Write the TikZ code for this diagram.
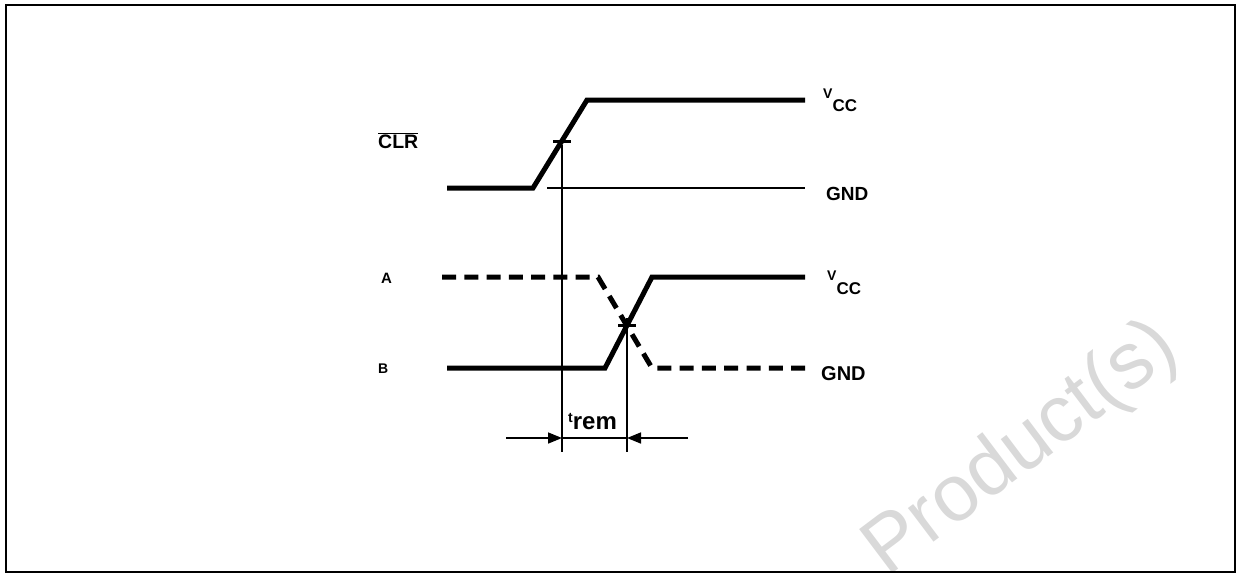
\documentclass[tikz,border=0pt]{standalone}
\usepackage{fontspec}
\newfontfamily\labfont{Liberation Sans}
\usetikzlibrary{arrows.meta}
\begin{document}
\begin{tikzpicture}[x=1pt,y=-1pt,
  sig/.style={line width=5pt},
  sigdash/.style={line width=5pt, dash pattern=on 14pt off 8.27pt},
  thin/.style={line width=1.8pt},
  tick/.style={line width=3pt},
  lab/.style={font=\labfont\bfseries, inner sep=0pt},
  dim/.style={line width=1.6pt},
  arr/.style={-{Triangle[length=14pt,width=11pt]}}
]
\useasboundingbox (0,0) rectangle (1237,574);
% watermark
\begin{scope}
\clip (7,6) rectangle (1234,571);
\node[font=\labfont\fontsize{80}{80}\selectfont, text=black!15, rotate=37, anchor=base west, inner sep=0pt] (wm) at (887,578) {Product(s)};
\end{scope}
% frame
\draw[line width=2.5pt] (6,5) rectangle (1235,572);

% coordinates
\coordinate (c0) at (447,188);
\coordinate (c1) at (533,188);
\coordinate (c2) at (587,100);
\coordinate (c3) at (805,100);
\coordinate (g0) at (547,188);
\coordinate (g1) at (805,188);
\coordinate (a0) at (442,277);
\coordinate (a1) at (598,277);
\coordinate (a2) at (652,368);
\coordinate (a3) at (805,368);
\coordinate (b0) at (447,368);
\coordinate (b1) at (605,368);
\coordinate (b2) at (652,277);
\coordinate (b3) at (805,277);
\coordinate (x1) at (562,141);
\coordinate (x2) at (627,325);
\coordinate (v1b) at (562,452);
\coordinate (v2t) at (627,318);
\coordinate (v2b) at (627,452);
\coordinate (d0) at (506,438);
\coordinate (dA) at (562,438);
\coordinate (dB) at (627,438);
\coordinate (d1) at (688,438);

% CLR waveform
\draw[sig] (c0) -- (c1) -- (c2) -- (c3);
\draw[thin] (g0) -- (g1);
% A (dashed) and B (solid)
\draw[sigdash] (a0) -- (a1) -- (a2) -- (a3);
\draw[sig] (b0) -- (b1) -- (b2) -- (b3);
% crossing marks
\draw[tick] ([xshift=-9pt]x1) -- ([xshift=9pt]x1);
\draw[tick] ([xshift=-9pt]x2) -- ([xshift=9pt]x2);
% verticals
\draw[dim] ([yshift=-4pt]x1) -- (v1b);
\draw[dim] (v2t) -- (v2b);
% dimension line
\draw[dim] (dA) -- (dB);
\draw[dim,arr] (d0) -- (dA);
\draw[dim,arr] (d1) -- (dB);

% labels
\node[lab, font=\labfont\bfseries\fontsize{19.5}{19.5}\selectfont, anchor=base west] (clr) at (378,148) {$\overline{\mbox{CLR}}$};
\node[lab, font=\labfont\bfseries\fontsize{15}{15}\selectfont, anchor=base west] (la) at (381,283) {A};
\node[lab, font=\labfont\bfseries\fontsize{14}{14}\selectfont, anchor=base west] (lb) at (378,373) {B};
\node[lab, anchor=base west] (vcc1) at (823,98) {\fontsize{14}{14}\selectfont V\raisebox{-13pt}{\fontsize{17}{17}\selectfont CC}};
\node[lab, font=\labfont\bfseries\fontsize{19}{19}\selectfont, anchor=base west] (gnd1) at (826,200) {GND};
\node[lab, anchor=base west] (vcc2) at (827,280) {\fontsize{14}{14}\selectfont V\raisebox{-14pt}{\fontsize{17}{17}\selectfont CC}};
\node[lab, font=\labfont\bfseries\fontsize{20}{20}\selectfont, anchor=base west] (gnd2) at (821,380) {GND};
\node[lab, anchor=base west] (trem) at (568,422) {\fontsize{14}{14}\selectfont t\raisebox{-7pt}{\fontsize{24}{24}\selectfont rem}};
\end{tikzpicture}
\end{document}
